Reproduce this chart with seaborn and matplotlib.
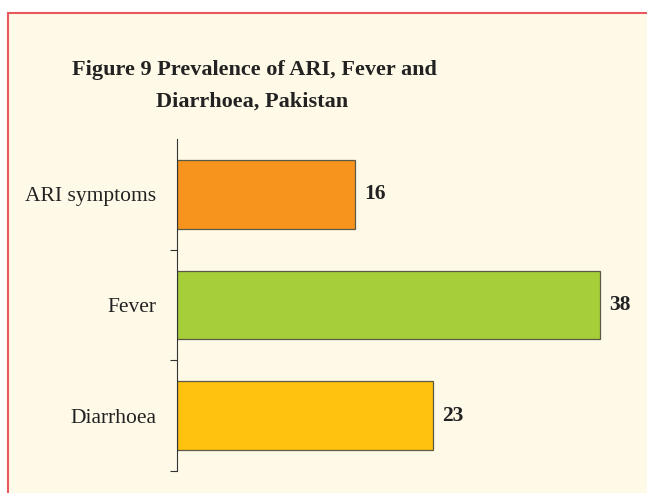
import matplotlib
matplotlib.use("Agg")
import matplotlib.pyplot as plt
import seaborn as sns
import pandas as pd
from matplotlib.patches import Rectangle

# Data
categories = ["ARI symptoms", "Fever", "Diarrhoea"]
values = [16, 38, 23]
bar_colors = ["#F7941D", "#A6CE39", "#FFC20E"]

BG = "#FFFAE8"
W, H = 647, 493

sns.set_theme(style="white")
plt.rcParams['font.family'] = ['Liberation Serif', 'DejaVu Serif']

df = pd.DataFrame({"cat": categories, "val": values})

fig = plt.figure(figsize=(W / 100, H / 100), dpi=100)
fig.patch.set_facecolor("white")

# cream panel with red border (top and left visible)
fig.patches.append(Rectangle((8 / W, -0.1), 1.2, 1 - 13 / H + 0.1,
                             transform=fig.transFigure, facecolor=BG,
                             edgecolor="#E8585C", linewidth=1.5, zorder=-10))

ax = fig.add_axes([177 / W, 1 - 471 / H, (645 - 177) / W, (471 - 139) / H])
ax.set_facecolor("none")
ax.set_zorder(5)

sns.barplot(data=df, x="val", y="cat", hue="cat", palette=bar_colors,
            legend=False, width=0.62, edgecolor="#5a5a48", linewidth=0.9,
            saturation=1, ax=ax)

ax.set_xlim(0, 42)
ax.set_ylim(2.5, -0.5)
ax.set_xlabel("")
ax.set_ylabel("")
ax.set_xticks([])

# ticks between categories, labels at the centres
ax.set_yticks([0.5, 1.5, 2.5])
ax.set_yticklabels([])
ax.set_yticks([0, 1, 2], minor=True)
ax.set_yticklabels(categories, minor=True, fontsize=15.5, color="#222222")
ax.tick_params(axis="y", which="major", left=True, length=5, width=0.8, color="#333333")
ax.tick_params(axis="y", which="minor", left=False, length=0, pad=15)

for s in ["top", "right", "bottom"]:
    ax.spines[s].set_visible(False)
ax.spines["left"].set_color("#333333")
ax.spines["left"].set_linewidth(0.8)

for i, v in enumerate(values):
    ax.text(v + 0.8, i, str(v), va="center", ha="left",
            fontsize=15.5, fontweight="bold", color="#222222")

fig.text(254 / W, 1 - 75 / H, "Figure 9 Prevalence of ARI, Fever and",
         ha="center", va="baseline", fontsize=16, fontweight="bold", color="#222222")
fig.text(252 / W, 1 - 107 / H, "Diarrhoea, Pakistan",
         ha="center", va="baseline", fontsize=16, fontweight="bold", color="#222222")

fig.savefig("out.png", dpi=100, facecolor=fig.get_facecolor())
